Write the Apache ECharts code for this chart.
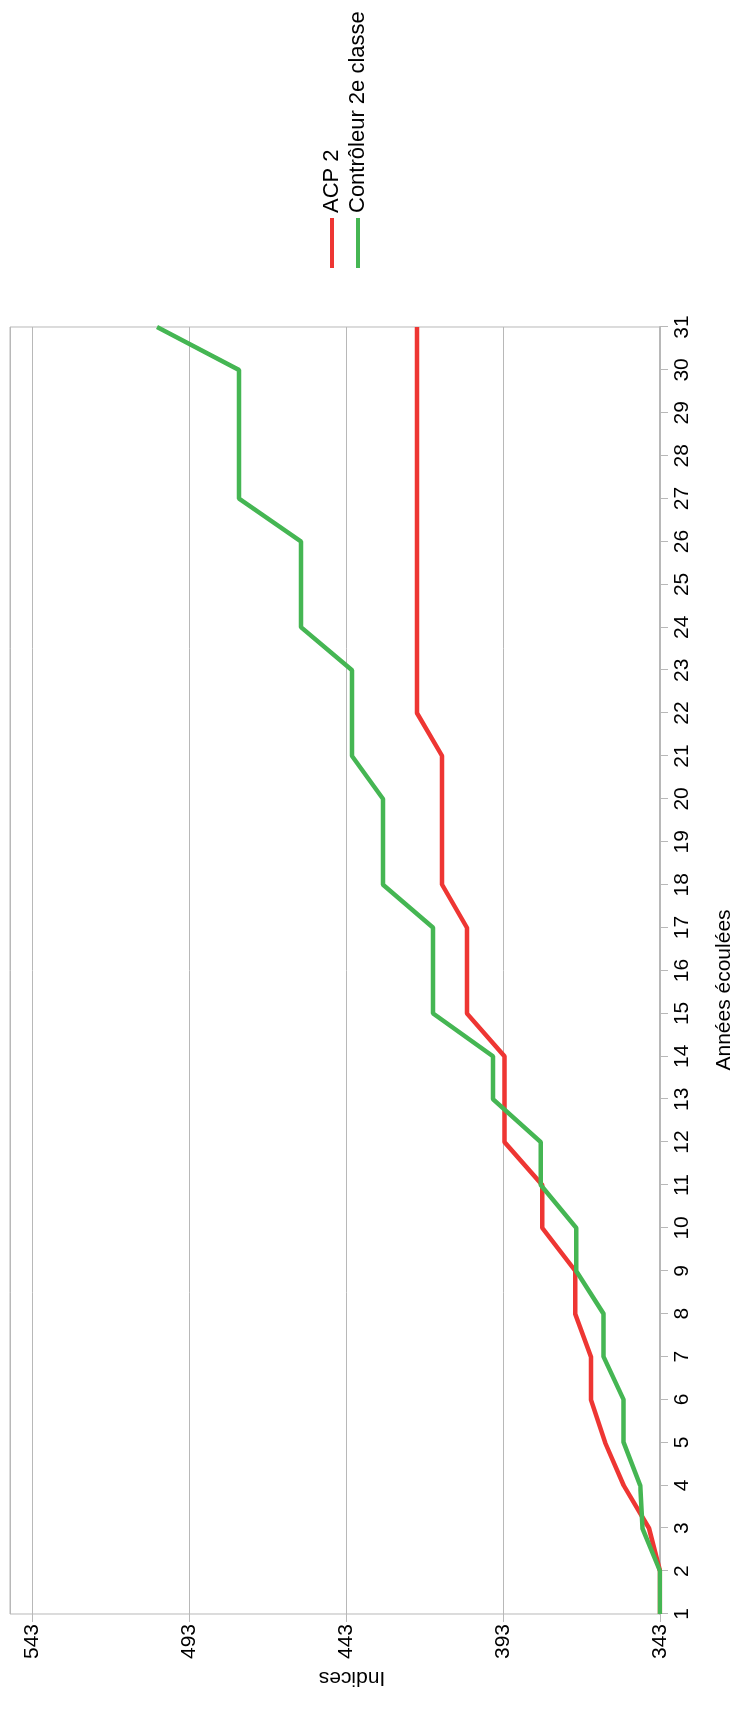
<!DOCTYPE html>
<html>
<head>
<meta charset="utf-8">
<script src="https://cdn.jsdelivr.net/npm/echarts@6/dist/echarts.min.js"></script>
<style>
html,body{margin:0;padding:0;width:735px;height:1728px;overflow:hidden;background:#fff;}
#wrap{position:absolute;left:0;top:0;width:1728px;height:735px;transform-origin:0 0;transform:translateY(1728px) rotate(-90deg);}
</style>
</head>
<body>
<div id="wrap"></div>
<script>
// Data
const years = ['1','2','3','4','5','6','7','8','9','10','11','12','13','14','15','16','17','18','19','20','21','22','23','24','25','26','27','28','29','30','31'];
const acp2 = [343, 343, 346.5, 354.6, 360.5, 365, 365, 370, 370, 380.5, 380.5, 392.5, 392.5, 392.5, 404.5, 404.5, 404.5, 412.4, 412.4, 412.4, 412.4, 420.4, 420.4, 420.4, 420.4, 420.4, 420.4, 420.4, 420.4, 420.4, 420.4];
const controleur = [343, 343, 348.6, 349.3, 354.6, 354.6, 361, 361, 369.7, 369.7, 381, 381, 396.2, 396.2, 415.3, 415.3, 415.3, 431.2, 431.2, 431.2, 441.1, 441.1, 441.1, 457.3, 457.3, 457.3, 477.1, 477.1, 477.1, 477.1, 503.2];
const seriesNames = ['ACP 2', 'Contrôleur 2e classe'];
const xTitle = 'Années écoulées';
const yTitle = 'Indices';

const FONT = '"Liberation Sans", Arial, sans-serif';
const FS = 21;
const GRID = '#b8b8b8';
const chart = echarts.init(document.getElementById('wrap'));
chart.setOption({
  animation: false,
  backgroundColor: '#fff',
  textStyle: {fontFamily: FONT},
  color: ['#ee3633', '#45b653'],
  grid: {left: 114, right: 327, top: 10, bottom: 75, show: true, borderColor: GRID, borderWidth: 1, containLabel: false},
  legend: {
    orient: 'vertical', left: 1455, top: 316,
    icon: 'rect', itemWidth: 50, itemHeight: 4, itemGap: 4,
    textStyle: {fontSize: 22, color: '#000', fontFamily: FONT, lineHeight: 22},
    data: seriesNames
  },
  xAxis: {
    type: 'category', data: years, boundaryGap: false,
    axisLine: {show: true, lineStyle: {color: GRID, width: 2}},
    axisTick: {show: true, inside: false, length: 8, lineStyle: {color: GRID}},
    axisLabel: {interval: 0, margin: 12, fontSize: FS, color: '#000', fontFamily: FONT},
    splitLine: {show: false}
  },
  yAxis: {
    type: 'value', min: 343, max: 550, interval: 50,
    axisLine: {show: false},
    axisTick: {show: true, length: 8, lineStyle: {color: GRID}},
    axisLabel: {margin: 10, fontSize: FS, color: '#000', fontFamily: FONT, showMaxLabel: false},
    splitLine: {show: true, lineStyle: {color: GRID, width: 1}}
  },
  graphic: [
    {type: 'text', x: 738, y: 724, style: {text: xTitle, fontSize: FS, fontFamily: FONT, fill: '#000', textAlign: 'center', textVerticalAlign: 'middle'}},
    {type: 'text', x: 50, y: 352, rotation: Math.PI / 2, style: {text: yTitle, fontSize: FS, fontFamily: FONT, fill: '#000', textAlign: 'center', textVerticalAlign: 'middle'}}
  ],
  series: [
    {name: seriesNames[0], type: 'line', data: acp2, showSymbol: false, symbol: 'none', lineStyle: {width: 4.5}},
    {name: seriesNames[1], type: 'line', data: controleur, showSymbol: false, symbol: 'none', lineStyle: {width: 4.5}}
  ]
});
</script>
</body>
</html>
